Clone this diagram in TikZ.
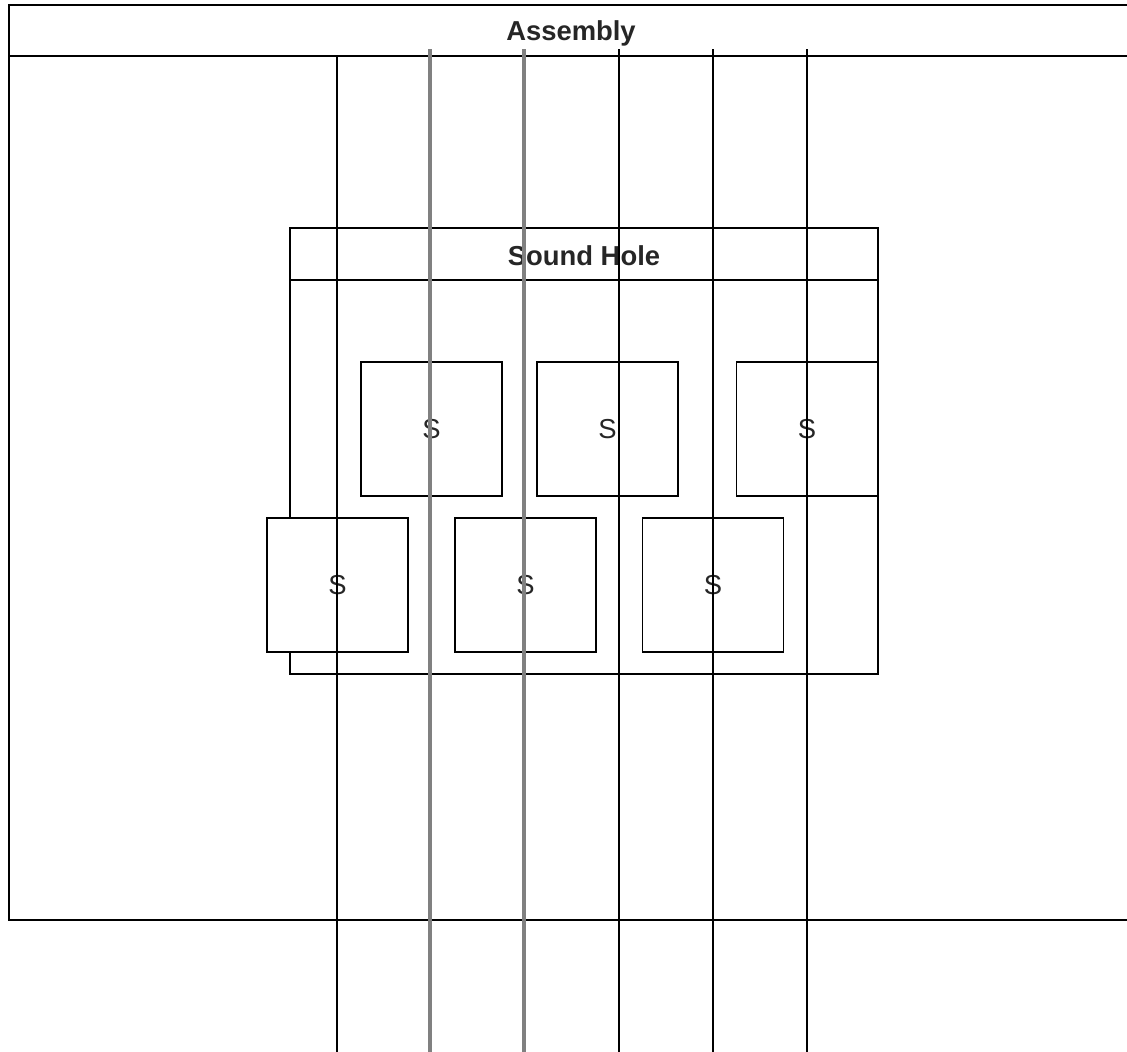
\documentclass[tikz,border=0pt]{standalone}
\usepackage{fontspec}
\setmainfont{Liberation Sans}
\usepackage{tikz}
\usetikzlibrary{positioning}

\begin{document}
\begin{tikzpicture}[
    x=0.02cm, y=-0.02cm,
    frame/.style={draw, line width=1.1pt},
    title/.style={font=\fontsize{15.6}{18}\selectfont\bfseries, text=black!85, inner sep=0pt},
    sbox/.style={rectangle, draw, fill=white, line width=1.1pt, minimum width=2.82cm, minimum height=2.68cm, text=black!85, font=\fontsize{15.6}{18}\selectfont},
    string/.style={line width=1.1pt},
    gstring/.style={line width=1.8pt, draw=black!50}
]
\useasboundingbox (0,0) rectangle (1127,1052);

% Assembly frame
\draw[frame] (9,5) rectangle (1140,920);
\draw[frame] (9,56) -- (1140,56);
\node[title] (asm) at (571,33) {Assembly};

% Sound hole frame
\draw[frame, fill=white] (290,228) rectangle (878,674);
\draw[frame] (290,280) -- (878,280);
\node[title] (hole) at (584,256) {Sound Hole};

% Saddle pieces
\node[sbox] (s1) at (431.5,429) {S};
\node[sbox] (s2) at (607.5,429) {S};
\node[sbox] (s3) at (807,429) {S};
\node[sbox] (s4) at (337.5,585) {S};
\node[sbox] (s5) at (525.5,585) {S};
\node[sbox] (s6) at (713,585) {S};

% Strings
\foreach \i/\x/\t/\sty in {1/337/56/string, 2/430/49/gstring, 3/524/49/gstring,
                            4/619/49/string, 5/713/49/string, 6/807/49/string} {
  \coordinate (top\i) at (\x,\t);
  \coordinate (end\i) at (\x,1060);
  \draw[\sty] (top\i) -- (end\i);
}

\end{tikzpicture}
\end{document}
